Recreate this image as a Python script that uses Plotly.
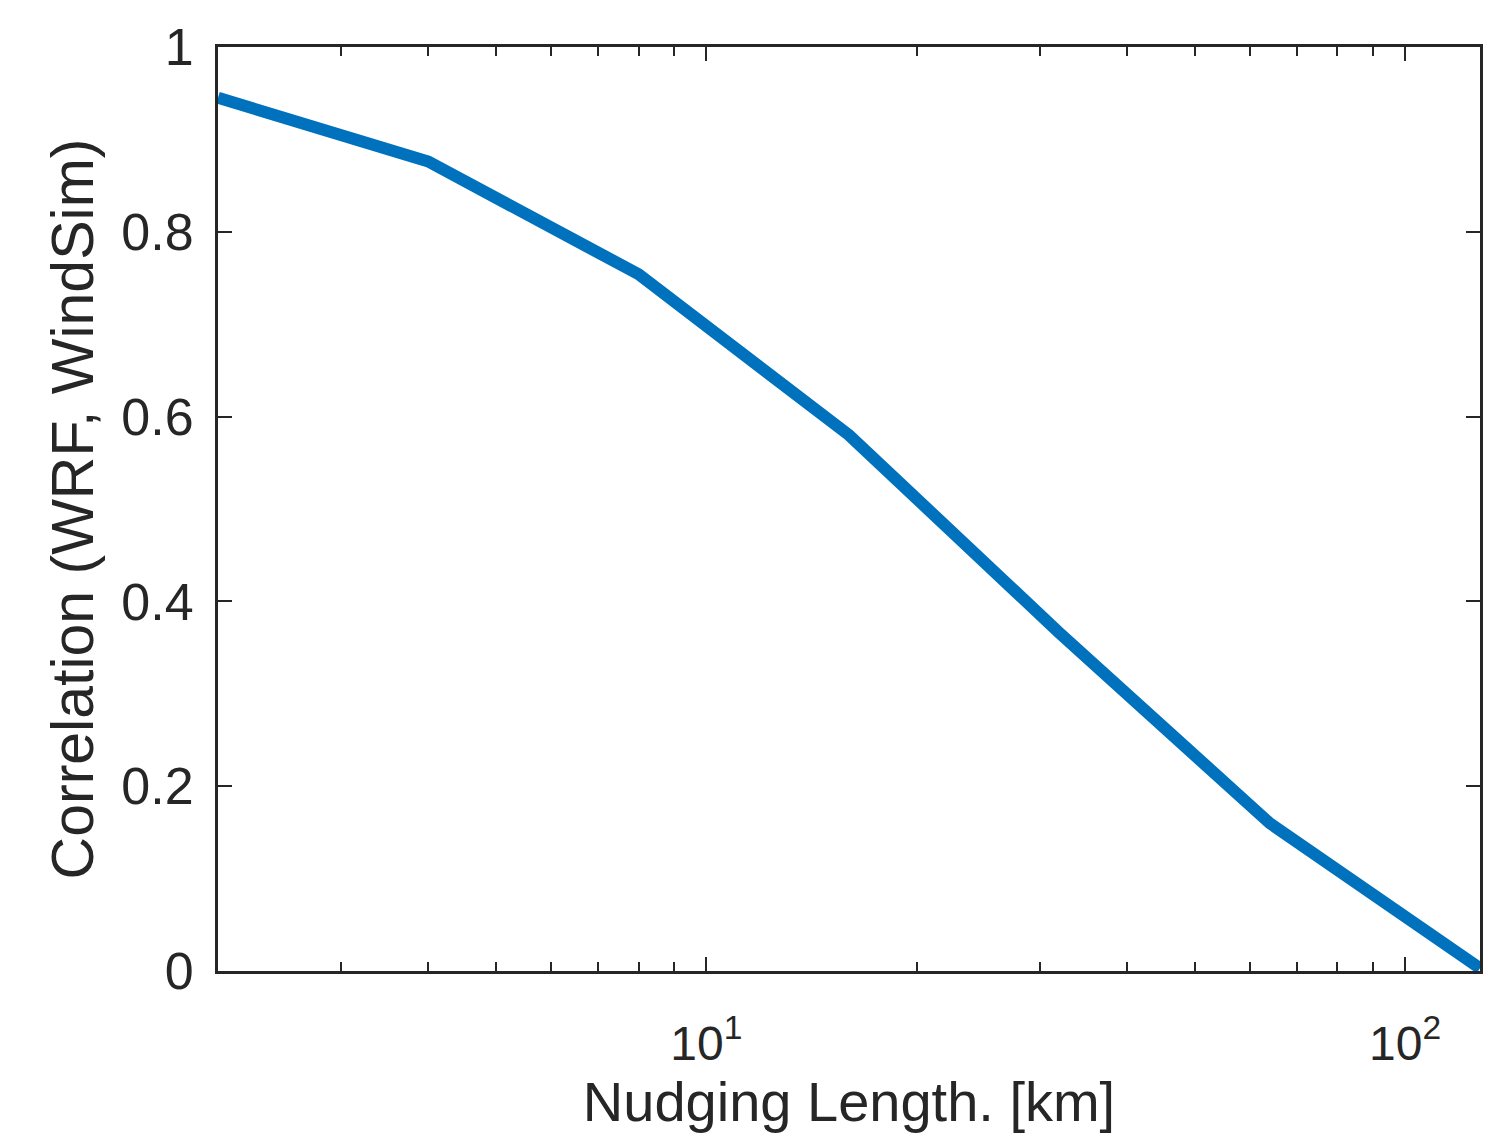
import plotly.graph_objects as go

nudging_length_km = [2, 4, 8, 16, 32, 64, 128]
correlation = [0.945, 0.876, 0.754, 0.580, 0.366, 0.160, 0.003]

x_tick_vals = [10, 100]
x_tick_text = ["10<sup>1</sup>", "10<sup>2</sup>"]
x_minor_vals = [3, 4, 5, 6, 7, 8, 9, 20, 30, 40, 50, 60, 70, 80, 90]
y_tick_vals = [0, 0.2, 0.4, 0.6, 0.8, 1]
y_tick_text = ["0", "0.2", "0.4", "0.6", "0.8", "1"]

axis_color = "#262626"
font_family = "Liberation Sans, Arial, sans-serif"

fig = go.Figure()
fig.add_trace(go.Scatter(
    x=nudging_length_km, y=correlation, mode="lines",
    line=dict(color="#0072BD", width=12),
    showlegend=False,
))

fig.update_layout(
    width=1487, height=1134,
    margin=dict(l=218, r=4, t=47, b=163),
    paper_bgcolor="white", plot_bgcolor="white",
    font=dict(family=font_family, color=axis_color, size=46),
)

fig.update_xaxes(
    type="log", range=[0.30103, 2.10721],
    tickmode="array", tickvals=x_tick_vals, ticktext=x_tick_text,
    ticks="inside", ticklen=14, tickwidth=2, tickcolor=axis_color,
    minor=dict(tickmode="array", tickvals=x_minor_vals, ticks="inside", ticklen=9, tickwidth=2, tickcolor=axis_color, showgrid=False),
    showline=True, linecolor=axis_color, linewidth=3, mirror="allticks",
    showgrid=False, zeroline=False,
    ticklabelstandoff=28,
    tickfont=dict(family=font_family, size=48),
    title=dict(text="Nudging Length. [km]", font=dict(family=font_family, size=56), standoff=4),
)
fig.update_yaxes(
    range=[0, 1],
    tickmode="array", tickvals=y_tick_vals, ticktext=y_tick_text,
    ticks="inside", ticklen=14, tickwidth=2, tickcolor=axis_color,
    showline=True, linecolor=axis_color, linewidth=3, mirror="allticks",
    showgrid=False, zeroline=False,
    ticklabelstandoff=11,
    tickfont=dict(family=font_family, size=52),
    title=dict(text="Correlation (WRF, WindSim)", font=dict(family=font_family, size=59), standoff=9),
)

fig.write_html("out.html")
